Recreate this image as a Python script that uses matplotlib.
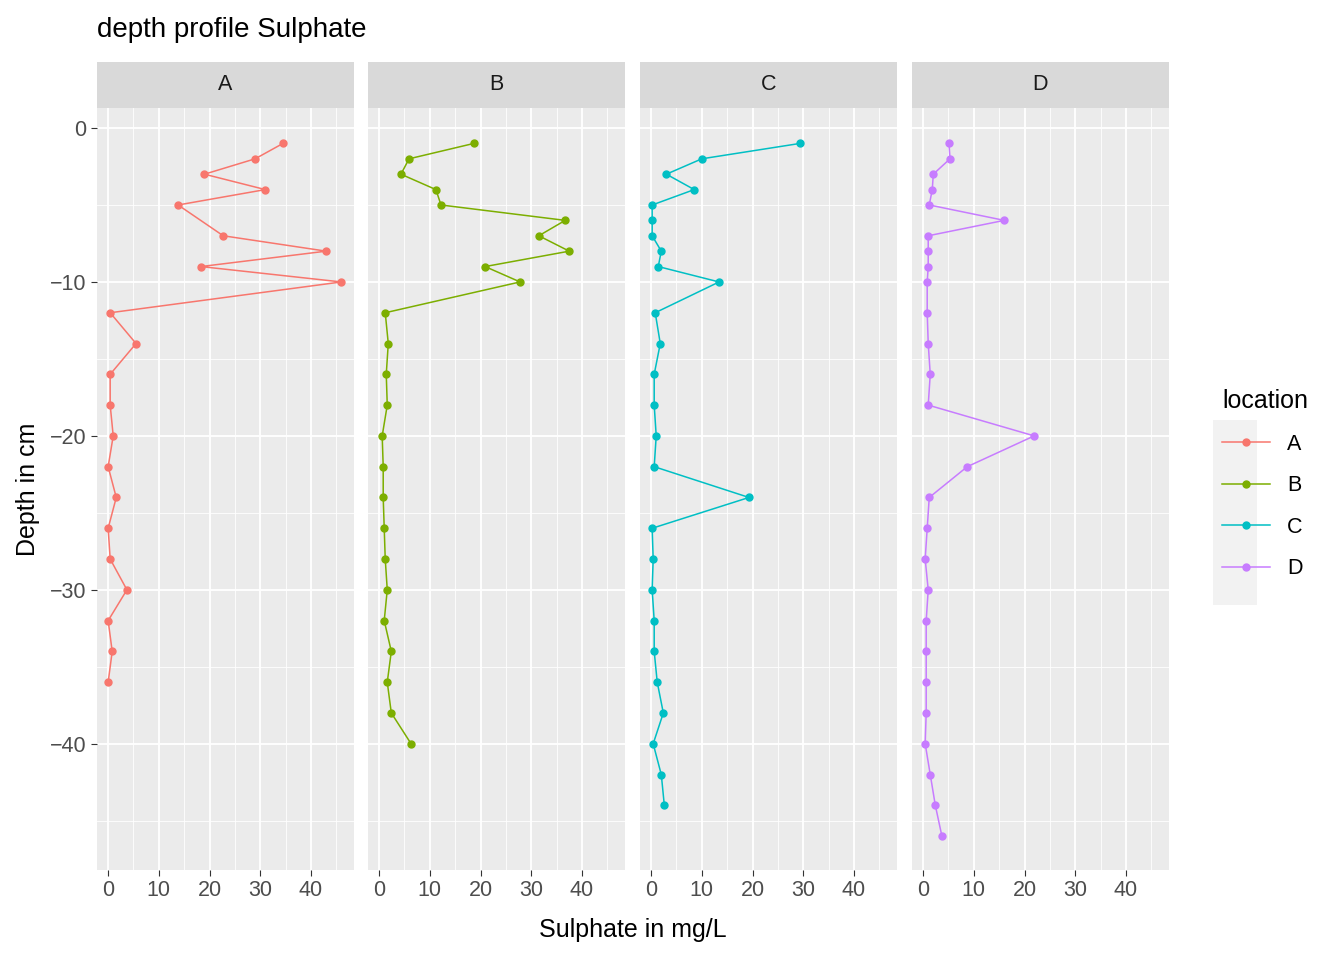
import matplotlib.pyplot as plt
from matplotlib.ticker import MultipleLocator
from matplotlib.lines import Line2D

locations = ["A", "B", "C", "D"]
colors = ["#F8766D", "#7CAE00", "#00BFC4", "#C77CFF"]

depth_a = [-1, -2, -3, -4, -5, -7, -8, -9, -10, -12, -14, -16, -18, -20, -22, -24, -26, -28, -30, -32, -34, -36]
sulph_a = [34.5, 29, 19, 31, 13.8, 22.7, 43, 18.3, 46, 0.4, 5.5, 0.4, 0.4, 1, 0, 1.6, 0, 0.4, 3.7, 0, 0.8, 0]

depth_b = [-1, -2, -3, -4, -5, -6, -7, -8, -9, -10, -12, -14, -16, -18, -20, -22, -24, -26, -28, -30, -32, -34, -36, -38, -40]
sulph_b = [18.7, 5.9, 4.3, 11.2, 12.2, 36.7, 31.5, 37.5, 20.9, 27.8, 1.2, 1.8, 1.4, 1.6, 0.6, 0.8, 0.8, 1, 1.2, 1.6, 1, 2.4, 1.6, 2.4, 6.3]

depth_c = [-1, -2, -3, -4, -5, -6, -7, -8, -9, -10, -12, -14, -16, -18, -20, -22, -24, -26, -28, -30, -32, -34, -36, -38, -40, -42, -44]
sulph_c = [29.4, 10, 3, 8.5, 0.2, 0.2, 0.2, 2, 1.4, 13.4, 0.8, 1.8, 0.6, 0.6, 1, 0.6, 19.3, 0.2, 0.4, 0.2, 0.6, 0.6, 1.2, 2.4, 0.4, 2, 2.6]

depth_d = [-1, -2, -3, -4, -5, -6, -7, -8, -9, -10, -12, -14, -16, -18, -20, -22, -24, -26, -28, -30, -32, -34, -36, -38, -40, -42, -44, -46]
sulph_d = [5.1, 5.3, 2, 1.8, 1.2, 16, 1, 1, 1, 0.8, 0.8, 1, 1.4, 1, 21.9, 8.7, 1.2, 0.8, 0.4, 1, 0.6, 0.6, 0.6, 0.6, 0.4, 1.4, 2.4, 3.7]

series = [(sulph_a, depth_a), (sulph_b, depth_b), (sulph_c, depth_c), (sulph_d, depth_d)]

plt.rcParams["font.family"] = ["Liberation Sans", "DejaVu Sans"]
fig = plt.figure(figsize=(13.44, 9.6), dpi=100)
W, H = 1344, 960
lefts = [97, 368, 640, 912]
pw = 257
top, bottom, strip_top = 108, 870, 62

for i, (loc, col, (x, y)) in enumerate(zip(locations, colors, series)):
    ax = fig.add_axes([lefts[i] / W, 1 - bottom / H, pw / W, (bottom - top) / H])
    ax.set_facecolor("#EBEBEB")
    ax.set_xlim(-2.2, 48.5)
    ax.set_ylim(-48.2, 1.3)
    ax.xaxis.set_major_locator(MultipleLocator(10))
    ax.xaxis.set_minor_locator(MultipleLocator(5))
    ax.yaxis.set_major_locator(MultipleLocator(10))
    ax.yaxis.set_minor_locator(MultipleLocator(5))
    ax.grid(which="major", color="white", lw=1.3)
    ax.grid(which="minor", color="white", lw=0.6)
    ax.set_axisbelow(True)
    for s in ax.spines.values():
        s.set_visible(False)
    ax.tick_params(which="minor", length=0)
    ax.tick_params(which="major", length=4, color="#333333", labelsize=15.5, labelcolor="#4D4D4D")
    if i > 0:
        ax.set_yticklabels([])
        ax.tick_params(axis="y", length=0)
    ax.plot(x, y, color=col, lw=1.1, marker="o", ms=5)
    sax = fig.add_axes([lefts[i] / W, 1 - top / H, pw / W, (top - strip_top) / H])
    sax.set_facecolor("#D9D9D9")
    sax.set_xticks([]); sax.set_yticks([])
    for s in sax.spines.values():
        s.set_visible(False)
    sax.text(0.5, 0.5, loc, ha="center", va="center", fontsize=15.5, color="#1A1A1A")

fig.text(97 / W, 1 - 30 / H, "depth profile Sulphate", fontsize=20, va="center")
fig.text(633 / W, 1 - 930 / H, "Sulphate in mg/L", fontsize=18, ha="center", va="center")
fig.text(28 / W, 1 - 489 / H, "Depth in cm", fontsize=18, rotation=90, ha="center", va="center")

# legend key background
lax = fig.add_axes([1213 / W, 1 - 605 / H, 44 / W, 185 / H])
lax.set_facecolor("#F2F2F2")
lax.set_xticks([]); lax.set_yticks([])
for s in lax.spines.values():
    s.set_visible(False)

handles = [Line2D([], [], color=c, marker="o", ms=5, lw=1.1) for c in colors]
fig.legend(handles, locations, loc="upper left", bbox_to_anchor=(1203 / W, 1 - 370 / H),
           title="location", fontsize=15.5, title_fontsize=18, frameon=False,
           handlelength=2.2, labelspacing=0.95, alignment="left")
plt.savefig("out.png", dpi=100)
